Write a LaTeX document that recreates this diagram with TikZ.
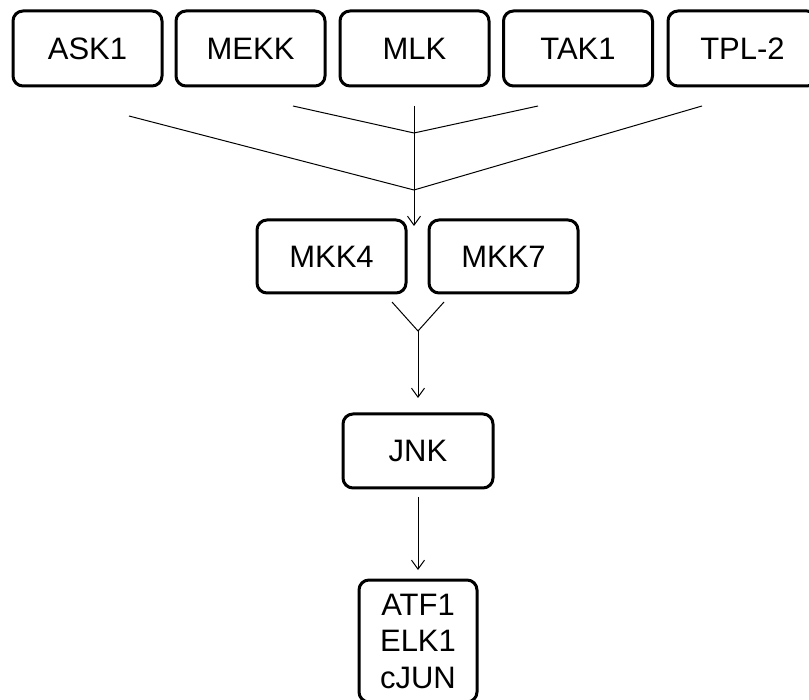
\documentclass[tikz,border=0pt]{standalone}
\usepackage{fontspec}
\setmainfont{Liberation Sans}
\usetikzlibrary{arrows.meta}
\begin{document}
\begin{tikzpicture}[x=1pt,y=-1pt,
  box/.style={draw, line width=3pt, rounded corners=10pt, minimum width=149pt,
    minimum height=75pt, inner sep=0pt, font=\fontsize{31}{36.5}\selectfont, align=center},
  conn/.style={line width=1pt},
  arr/.style={conn, -{Straight Barb[length=9pt,width=13pt]}}]
\clip (0,0) rectangle (809,700);
\node[box] (ask) at (87.5,48.5) {ASK1};
\node[box] (mekk) at (250.5,48.5) {MEKK};
\node[box] (mlk) at (414.5,48.5) {MLK};
\node[box] (tak) at (578,48.5) {TAK1};
\node[box] (tpl) at (742.5,48.5) {TPL-2};
\node[box, minimum height=73pt] (mkk4) at (331.5,256.5) {MKK4};
\node[box, minimum height=73pt] (mkk7) at (503.5,256.5) {MKK7};
\node[box, minimum width=150pt, minimum height=74pt] (jnk) at (418,451) {JNK};
\node[box, minimum width=118pt, minimum height=122pt] (tf) at (418,641) {ATF1\\ELK1\\cJUN};
% fan-in from top row
\coordinate (pa) at (129,116);
\coordinate (pb) at (293,106);
\coordinate (pc) at (414,106);
\coordinate (pd) at (538,106);
\coordinate (pe) at (702,106);
\coordinate (j1) at (414,133);
\coordinate (j2) at (414,190);
\coordinate (t1) at (414,226);
\draw[conn] (pa) -- (j2);
\draw[conn] (pe) -- (j2);
\draw[conn] (pb) -- (j1);
\draw[conn] (pd) -- (j1);
\draw[arr] (pc) -- (t1);
% MKK4/MKK7 to JNK
\coordinate (y1) at (392,302);
\coordinate (y2) at (444,302);
\coordinate (y3) at (418,331);
\coordinate (t2) at (418,398);
\draw[conn] (y1) -- (y3) -- (y2);
\draw[arr] (y3) -- (t2);
% JNK to targets
\coordinate (s3) at (418,497);
\coordinate (t3) at (418,570);
\draw[arr] (s3) -- (t3);
\end{tikzpicture}
\end{document}
